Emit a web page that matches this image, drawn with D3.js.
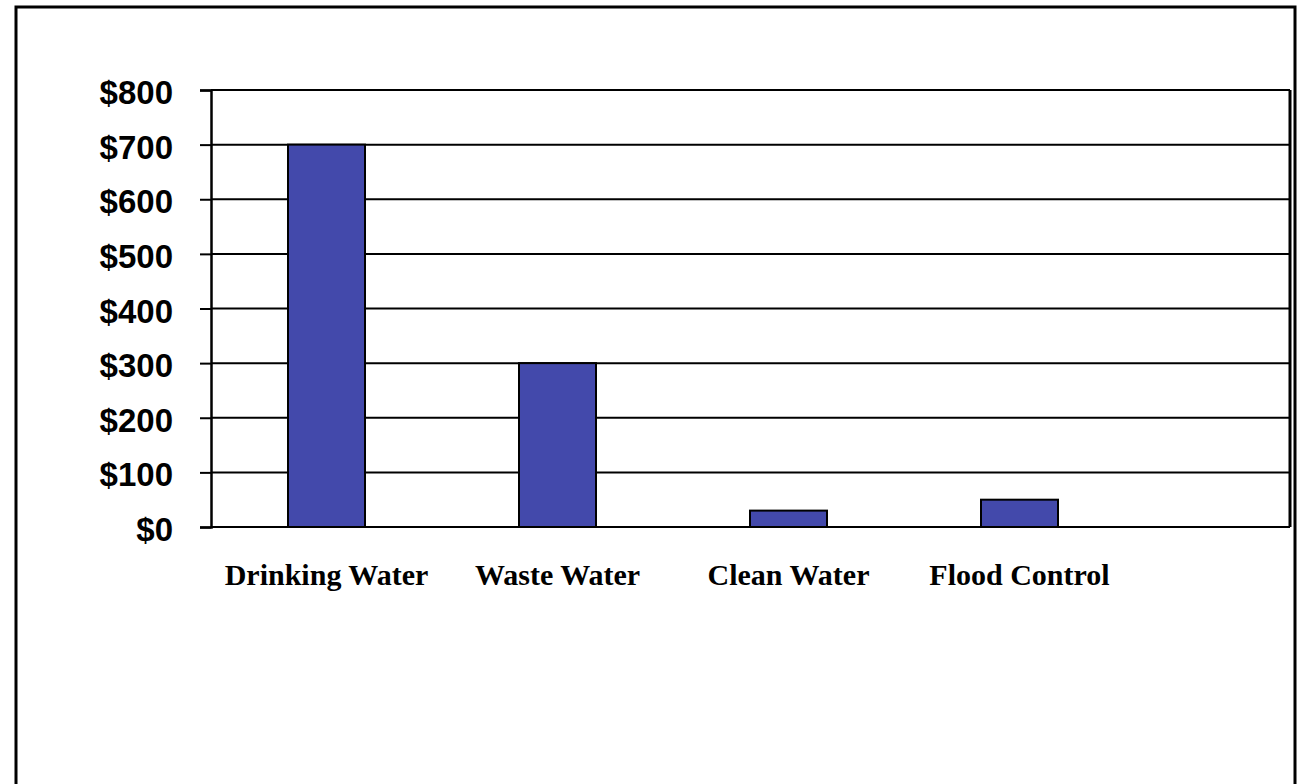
<!DOCTYPE html>
<html>
<head>
<meta charset="utf-8">
<script src="https://cdn.jsdelivr.net/npm/d3@7"></script>
<style>
  body { margin: 0; background: #fff; }
</style>
</head>
<body>
<script>
const categories = ["Drinking Water", "Waste Water", "Clean Water", "Flood Control"];
const values = [700, 300, 30, 50];
const yTicks = [0, 100, 200, 300, 400, 500, 600, 700, 800];

const width = 1298, height = 784;
const plot = { left: 211, top: 90, right: 1290, bottom: 527 };

const svg = d3.select("body").append("svg")
  .attr("width", width)
  .attr("height", height);

// outer frame
svg.append("rect")
  .attr("x", 16).attr("y", 7)
  .attr("width", 1279).attr("height", 800)
  .attr("fill", "#fff")
  .attr("stroke", "#000")
  .attr("stroke-width", 3);

const y = d3.scaleLinear().domain([0, 800]).range([plot.bottom, plot.top]);
const x = d3.scaleBand()
  .domain(categories)
  .range([plot.left, plot.left + 924])
  .paddingInner(2 / 3)
  .paddingOuter(1 / 3);

// gridlines
svg.append("g")
  .selectAll("line")
  .data(yTicks)
  .join("line")
  .attr("x1", plot.left).attr("x2", plot.right)
  .attr("y1", d => y(d)).attr("y2", d => y(d))
  .attr("stroke", "#000")
  .attr("stroke-width", 2);

// right edge of plot
svg.append("line")
  .attr("x1", plot.right).attr("x2", plot.right)
  .attr("y1", plot.top).attr("y2", plot.bottom)
  .attr("stroke", "#000").attr("stroke-width", 3);

// bars
svg.append("g")
  .selectAll("rect")
  .data(values)
  .join("rect")
  .attr("x", (d, i) => x(categories[i]))
  .attr("y", d => y(d))
  .attr("width", x.bandwidth())
  .attr("height", d => plot.bottom - y(d))
  .attr("fill", "#4349AB")
  .attr("stroke", "#000")
  .attr("stroke-width", 2);

// y axis
const yAxis = d3.axisLeft(y)
  .tickValues(yTicks)
  .tickSize(11)
  .tickPadding(27)
  .tickFormat(d => "$" + d);

svg.append("g")
  .attr("transform", `translate(${plot.left},0)`)
  .call(yAxis)
  .call(g => g.select(".domain").attr("stroke-width", 2.5))
  .call(g => g.selectAll(".tick line").attr("stroke-width", 2))
  .call(g => g.selectAll("text")
    .attr("dy", "0.41em")
    .attr("font-family", "Liberation Sans, Arial, sans-serif")
    .attr("font-weight", "bold")
    .attr("font-size", 33)
    .attr("fill", "#000"));

// category labels
svg.append("g")
  .selectAll("text")
  .data(categories)
  .join("text")
  .attr("x", d => x(d) + x.bandwidth() / 2)
  .attr("y", 585)
  .attr("text-anchor", "middle")
  .attr("font-family", "Liberation Serif, Times New Roman, serif")
  .attr("font-weight", "bold")
  .attr("font-size", 30)
  .text(d => d);
</script>
</body>
</html>
